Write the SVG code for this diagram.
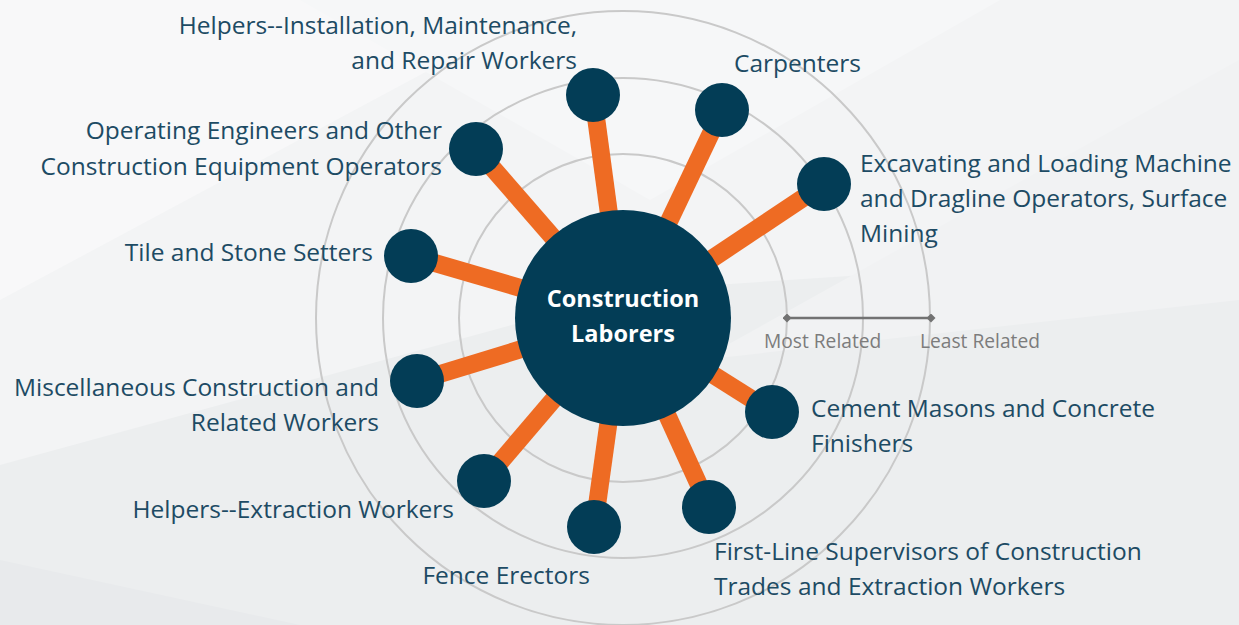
<svg xmlns="http://www.w3.org/2000/svg" width="1239" height="625" viewBox="0 0 1239 625">
<defs>
<style>
.lbl{font-family:"Open Sans","Noto Sans",sans-serif;font-size:24.5px;fill:#1d4b64;}
.lr{text-anchor:end;}
.ctr{font-family:"Open Sans","Noto Sans",sans-serif;font-size:23.5px;font-weight:bold;fill:#ffffff;text-anchor:middle;}
.leg{font-family:"Open Sans","Noto Sans",sans-serif;font-size:19.2px;fill:#7c7c7c;}
.ring{fill:none;stroke:#c9c9c9;stroke-width:2;}
.spoke{stroke:#ee6b23;stroke-width:18;}
.node{fill:#033d56;}
</style>
<marker id="dia" viewBox="-5 -5 10 10" markerWidth="9" markerHeight="9" markerUnits="userSpaceOnUse" refX="0" refY="0"><path d="M0,-5L5,0L0,5L-5,0Z" fill="#727272"/></marker>
</defs>
<g id="background">
<rect width="1239" height="625" fill="#f3f4f5"/>
<polygon points="0,0 560,0 0,300" fill="#f8f8f9"/>
<polygon points="300,0 1000,0 650,200" fill="#f6f7f8"/>
<polygon points="0,465 640,290 1239,250 1239,625 0,625" fill="#eceeef"/>
<polygon points="700,360 1239,60 1239,300" fill="#f1f2f3"/>
<polygon points="0,560 300,625 0,625" fill="#e8eaec"/>
</g>
<g id="rings">
<circle class="ring" cx="623" cy="318" r="164"/>
<circle class="ring" cx="623" cy="318" r="240"/>
<circle class="ring" cx="623" cy="318" r="307"/>
</g>
<g id="connectors">
<line class="spoke" x1="623" y1="318" x2="593" y2="95"/>
<line class="spoke" x1="623" y1="318" x2="722" y2="110"/>
<line class="spoke" x1="623" y1="318" x2="824" y2="184"/>
<line class="spoke" x1="623" y1="318" x2="476" y2="149"/>
<line class="spoke" x1="623" y1="318" x2="411" y2="256"/>
<line class="spoke" x1="623" y1="318" x2="417" y2="381"/>
<line class="spoke" x1="623" y1="318" x2="484" y2="481"/>
<line class="spoke" x1="623" y1="318" x2="594" y2="527"/>
<line class="spoke" x1="623" y1="318" x2="709" y2="507"/>
<line class="spoke" x1="623" y1="318" x2="772" y2="412"/>
</g>
<g id="legend">
<line x1="787" y1="318" x2="931" y2="318" stroke="#727272" stroke-width="2.5" marker-start="url(#dia)" marker-end="url(#dia)"/>
<text class="leg" x="764" y="348">Most Related</text>
<text class="leg" x="920" y="348">Least Related</text>
</g>
<g id="center">
<circle cx="623" cy="318" r="108" fill="#033d56"/>
<text class="ctr" x="623" y="307">Construction</text>
<text class="ctr" x="623" y="342">Laborers</text>
</g>
<g id="n-helpers-install">
<circle class="node" cx="593" cy="95" r="27"/>
<text class="lbl lr" x="577" y="34">Helpers--Installation, Maintenance,</text>
<text class="lbl lr" x="577" y="69">and Repair Workers</text>
</g>
<g id="n-carpenters">
<circle class="node" cx="722" cy="110" r="27"/>
<text class="lbl" x="734" y="72">Carpenters</text>
</g>
<g id="n-excavating">
<circle class="node" cx="824" cy="184" r="27"/>
<text class="lbl" x="860" y="172">Excavating and Loading Machine</text>
<text class="lbl" x="860" y="207">and Dragline Operators, Surface</text>
<text class="lbl" x="860" y="242">Mining</text>
</g>
<g id="n-operating">
<circle class="node" cx="476" cy="149" r="27"/>
<text class="lbl lr" x="442" y="139">Operating Engineers and Other</text>
<text class="lbl lr" x="442" y="175">Construction Equipment Operators</text>
</g>
<g id="n-tile">
<circle class="node" cx="411" cy="256" r="27"/>
<text class="lbl lr" x="373" y="261">Tile and Stone Setters</text>
</g>
<g id="n-misc">
<circle class="node" cx="417" cy="381" r="27"/>
<text class="lbl lr" x="379" y="396">Miscellaneous Construction and</text>
<text class="lbl lr" x="379" y="431">Related Workers</text>
</g>
<g id="n-helpers-extraction">
<circle class="node" cx="484" cy="481" r="27"/>
<text class="lbl lr" x="454" y="518">Helpers--Extraction Workers</text>
</g>
<g id="n-fence">
<circle class="node" cx="594" cy="527" r="27"/>
<text class="lbl lr" x="590" y="584">Fence Erectors</text>
</g>
<g id="n-firstline">
<circle class="node" cx="709" cy="507" r="27"/>
<text class="lbl" x="714" y="560">First-Line Supervisors of Construction</text>
<text class="lbl" x="714" y="595">Trades and Extraction Workers</text>
</g>
<g id="n-cement">
<circle class="node" cx="772" cy="412" r="27"/>
<text class="lbl" x="811" y="417">Cement Masons and Concrete</text>
<text class="lbl" x="811" y="452">Finishers</text>
</g>
</svg>
